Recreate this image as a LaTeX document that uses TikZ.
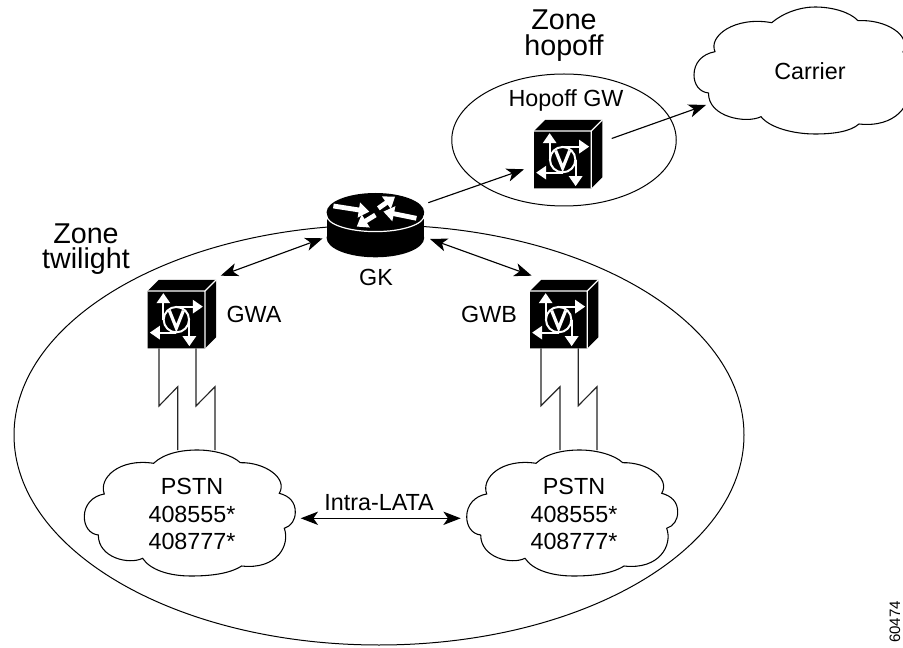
\documentclass[tikz,border=0pt]{standalone}
\usepackage{fontspec}
\setmainfont{Liberation Sans}
\usetikzlibrary{arrows.meta,shapes.geometric}
\tikzset{
  zonering/.style={draw,ellipse,line width=0.75pt,inner sep=0pt},
  lbl/.style={font=\fontsize{17.5pt}{20.5pt}\selectfont,align=center,inner sep=0pt},
  zonelbl/.style={font=\fontsize{21.5pt}{19.3pt}\selectfont,align=center,inner sep=0pt},
  slot/.style={minimum width=57.3*0.75pt,minimum height=57.3*0.75pt,inner sep=0pt},
  linkline/.style={line width=0.85pt,black!85,line join=miter},
  conn/.style={line width=0.85pt,-{Stealth[length=13pt,width=10pt,inset=3.5pt]}},
  conn2/.style={line width=0.85pt,{Stealth[length=13pt,width=10pt,inset=3.5pt]}-{Stealth[length=13pt,width=10pt,inset=3.5pt]}},
  whitearrow/.style={white,line width=3.6pt,-{Triangle[length=8pt,width=11pt]}},
  iconarrow/.style={white,line width=1.4pt,-{Triangle[length=7.5pt,width=10pt]}},
  gatewaybox/.pic={
    \fill[black] (-28.65,-28.65) -- (-17.5,-39.8) -- (39.8,-39.8) -- (39.8,17.5) -- (28.65,28.65) -- (-28.65,28.65) -- cycle;
    \draw[white,line width=0.9pt] (-28.65,-28.65) -- (28.65,-28.65) -- (28.65,28.65) (28.65,-28.65) -- (39.8,-39.8);
    \draw[iconarrow] (-13,0) -- (-13,-26.5);
    \draw[iconarrow] (0,-13) -- (26.5,-13);
    \draw[iconarrow] (13,0) -- (13,26.5);
    \draw[iconarrow] (0,13) -- (-26.5,13);
    \fill[black] (0,0) circle (12);
    \draw[white,line width=1.5pt] (0,0) circle (12.7);
    \draw[white,line width=2.4pt,line join=miter] (-7,-9) -- (0,8.5) -- (7,-9);
  },
  routerbody/.pic={
    \fill[black] (0,0) ellipse [x radius=48.8,y radius=19.3];
    \fill[black] (-48.8,0) rectangle (48.8,25.5);
    \fill[black] (0,25.5) ellipse [x radius=48.8,y radius=19.5];
    \draw[white,line width=0.9pt] (-48.8,3)
       .. controls (-48.8,12) and (-27,19.3) .. (0,19.3)
       .. controls (27,19.3) and (48.8,12) .. (48.8,3);
    \draw[whitearrow] (-42,-6.3) -- (-6,-0.7);
    \draw[whitearrow] (3,-4) -- (19.7,-15.7);
    \draw[whitearrow] (41,6) -- (8,-0.7);
    \draw[whitearrow] (0,2.7) -- (-18.7,14.3);
  },
  cloudshape/.pic={
    \draw[line width=0.8pt,fill=white] (69.3,13.3)
      .. controls (80,3) and (98,0) .. (113,0)
      .. controls (130,0) and (148,5) .. (156,12.7)
      .. controls (180,12) and (204,28) .. (195,43.3)
      .. controls (205,46) and (211,52) .. (211,62)
      .. controls (211,70) and (207,76) .. (200,78.3)
      .. controls (206,95) and (193,120) .. (157.3,116)
      .. controls (145,124) and (125,126) .. (106.7,126)
      .. controls (85,126) and (66,120) .. (58.3,108.3)
      .. controls (45,115) and (14,108) .. (14,85)
      .. controls (5,84) and (0,76) .. (0,66.7)
      .. controls (0,55) and (8,46) .. (20,44)
      .. controls (14,28) and (35,8) .. (69.3,13.3) -- cycle;
  }
}
\begin{document}
\begin{tikzpicture}[x=0.75pt,y=-0.75pt]
\clip (0,0) rectangle (903,648);
\fill[white] (0,0) rectangle (903,648);

% zones
\node[zonering,minimum width=730*0.75pt,minimum height=420*0.75pt] (twilight) at (379,435) {};
\node[zonering,minimum width=224.5*0.75pt,minimum height=132*0.75pt] (hopzone) at (564,140) {};

% clouds
\pic at (84.3,450) {cloudshape};
\pic at (466.7,450) {cloudshape};
\draw[line width=0.8pt] (771.7,22.7)
  .. controls (783,13) and (800,7) .. (815,7)
  .. controls (832,7) and (850,12) .. (858,20.7)
  .. controls (885,19) and (912,35) .. (903,52)
  .. controls (913,55) and (919,61) .. (919,71)
  .. controls (919,79) and (915,85) .. (908,87)
  .. controls (912,104) and (896,128) .. (859,124)
  .. controls (850,132) and (832,134) .. (815,134)
  .. controls (794,134) and (770,128) .. (761,116.7)
  .. controls (746,124) and (708,117) .. (708.5,93)
  .. controls (699,92) and (694,84) .. (694,75)
  .. controls (694,63) and (702,54) .. (715,51.7)
  .. controls (708,36) and (735,16) .. (771.7,22.7) -- cycle;

% devices
\node[slot] (gwa) at (176.35,319.65) {};
\node[slot] (gwb) at (558.65,319.65) {};
\node[slot] (hopgw) at (562.65,159.65) {};
\pic at (gwa) {gatewaybox};
\pic at (gwb) {gatewaybox};
\pic at (hopgw) {gatewaybox};
\node[minimum width=97.6*0.75pt,minimum height=64*0.75pt,inner sep=0pt] (gk) at (375.4,225) {};
\pic at (375.4,212.3) {routerbody};

% labels
\node[zonelbl] (zonehop) at (564,35.5) {Zone\\hopoff};
\node[lbl] (hoplbl) at (566,100) {Hopoff GW};
\node[lbl] (carrier) at (810,71) {Carrier};
\node[zonelbl] (zonetwi) at (86,249) {Zone\\twilight};
\node[lbl] (gklbl) at (376,277) {GK};
\node[lbl] (gwalbl) at (254,314) {GWA};
\node[lbl] (gwblbl) at (489,314) {GWB};
\node[lbl,text depth=0pt] (pstna) at (192,514) {PSTN\\408555*\\408777*};
\node[lbl,text depth=0pt] (pstnb) at (574,514) {PSTN\\408555*\\408777*};
\node[lbl] (intra) at (379,503) {Intra-LATA};
\node[font=\fontsize{11.3pt}{14pt}\selectfont,rotate=90,inner sep=0pt] (code) at (895,622) {60474};

% connector ends
\coordinate (gkA) at (322.7,238.3);
\coordinate (gwaT) at (220.7,275.7);
\coordinate (gkB) at (430,239);
\coordinate (gwbT) at (531.7,275.7);
\coordinate (gkH) at (428.3,202.7);
\coordinate (hopL) at (524,169.3);
\coordinate (hopR) at (611.7,138.5);
\coordinate (carL) at (706,105);
\coordinate (pstnaE) at (300.7,518.3);
\coordinate (pstnbW) at (460.7,518.3);

% connectors
\draw[conn2] (gwaT) -- (gkA);
\draw[conn2] (gkB) -- (gwbT);
\draw[conn] (gkH) -- (hopL);
\draw[conn] (hopR) -- (carL);
\draw[conn2] (pstnaE) -- (pstnbW);

% serial links
\draw[linkline] (159,348.3) -- (159,406) -- (177.7,386.7) -- (177.7,450);
\draw[linkline] (196,348.3) -- (196,406) -- (215,386.7) -- (215,450);
\draw[linkline] (541,348.3) -- (541,405.7) -- (560,386.7) -- (560,450);
\draw[linkline] (578.3,348.3) -- (578.3,405.7) -- (597,386.7) -- (597,450);
\end{tikzpicture}
\end{document}
